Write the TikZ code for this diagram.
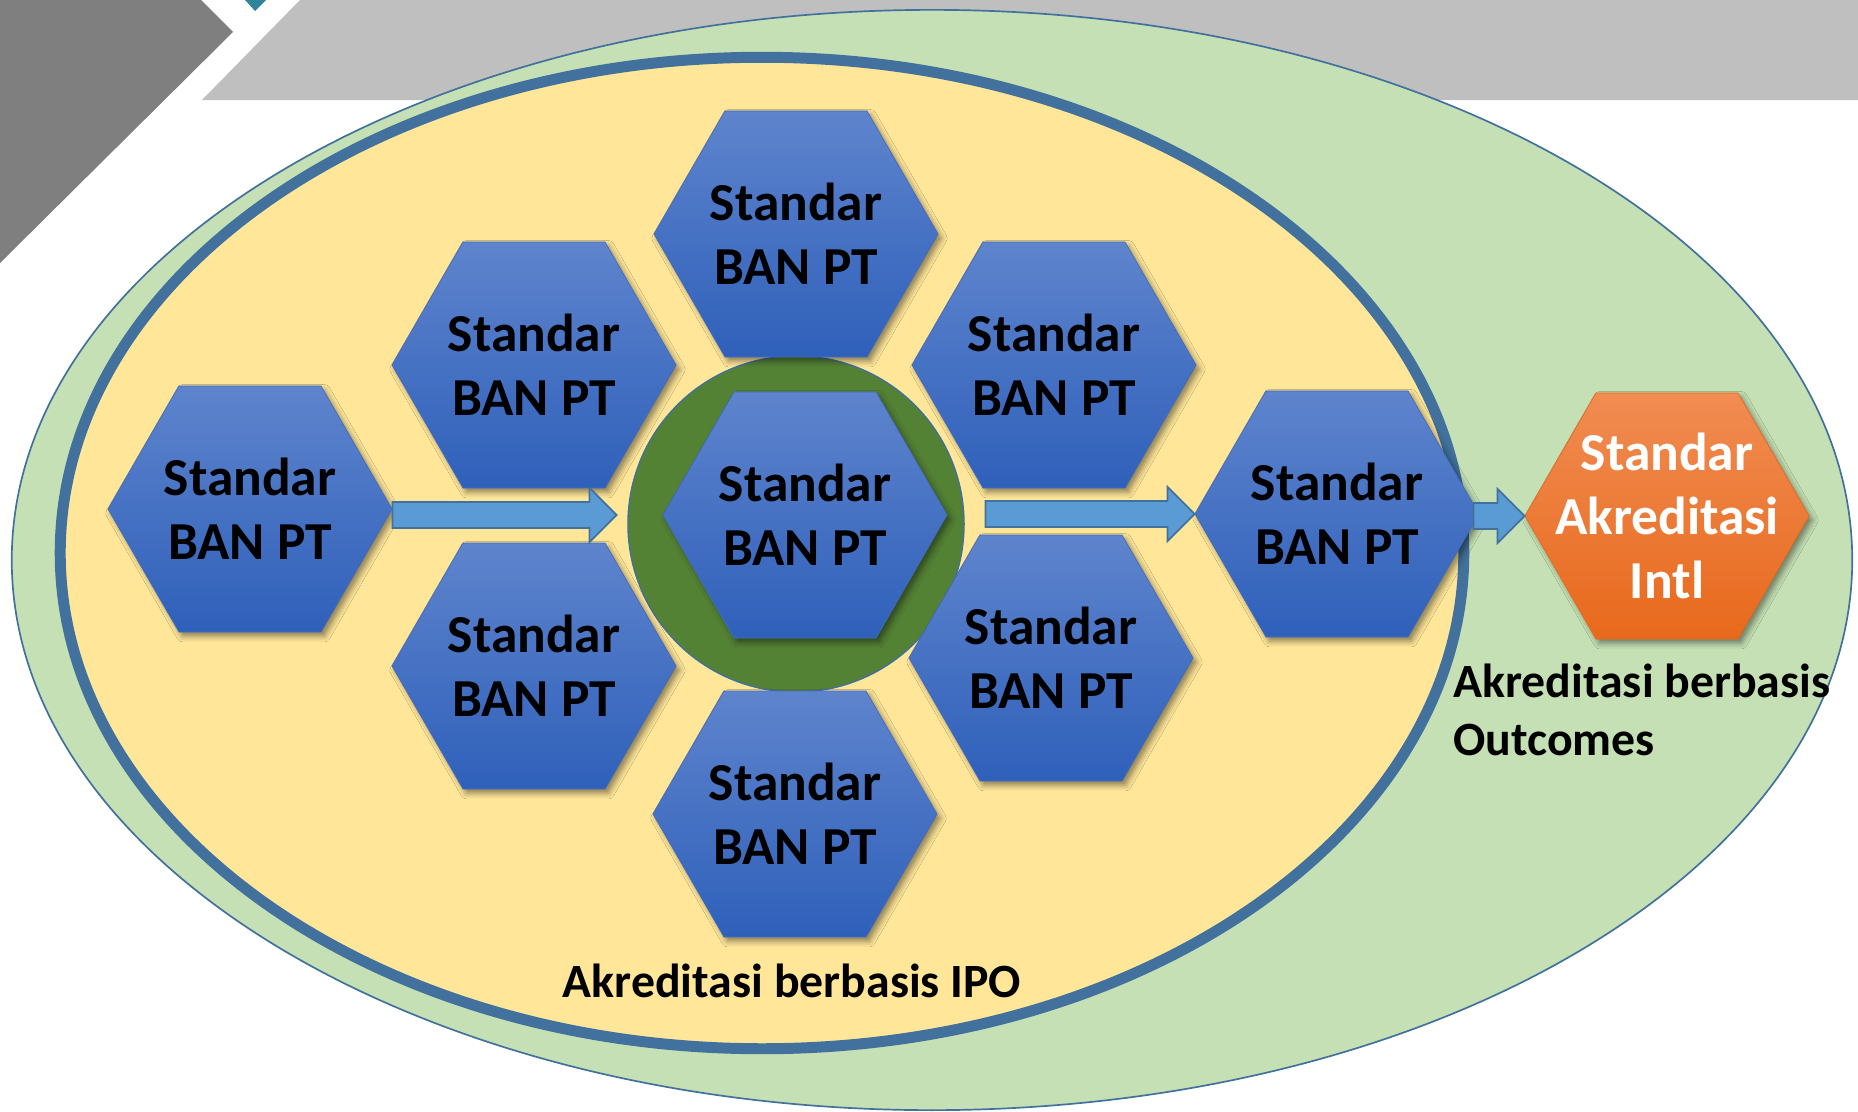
\documentclass[tikz,border=0pt]{standalone}
\usepackage{fontspec}
\setmainfont{Carlito}
\usetikzlibrary{shapes.geometric,shadows.blur,calc}

\definecolor{grayA}{HTML}{7F7F7F}
\definecolor{grayB}{HTML}{BFBFBF}
\definecolor{tealA}{HTML}{31849B}
\definecolor{greenA}{HTML}{C5E0B4}
\definecolor{greenB}{HTML}{548235}
\definecolor{yellowA}{HTML}{FFE699}
\definecolor{bordblue}{HTML}{41719C}
\definecolor{arrowfill}{HTML}{5B9BD5}
\definecolor{hextop}{HTML}{5E84CD}
\definecolor{hexbot}{HTML}{2F60BA}
\definecolor{hexline}{HTML}{3F6CC0}
\definecolor{ortop}{HTML}{F18C52}
\definecolor{orbot}{HTML}{E8691C}

\tikzset{
  hexbox/.style={regular polygon,regular polygon sides=6,minimum size=7.1cm,inner sep=0pt,
    draw=hexline,line width=0.5pt,top color=hextop,bottom color=hexbot,
    blur shadow={shadow xshift=2.5pt,shadow yshift=-3pt,shadow blur radius=4pt,shadow opacity=45},
    font=\fontsize{38}{45.5}\selectfont\bfseries,align=center},
  orangebox/.style={hexbox,inner sep=-1.2cm,draw=orbot,top color=ortop,bottom color=orbot,text=white},
  arrowbox/.style={fill=arrowfill,draw=bordblue,line width=1.2pt},
  captext/.style={inner sep=0pt,font=\fontsize{34}{41.3}\selectfont\bfseries}
}

\newcommand{\blockarr}[2]{\draw[arrowbox] let \p1=#1, \p2=#2 in
  (\x1,\y2+0.325cm) -- (\x2-0.675cm,\y2+0.325cm) -- (\x2-0.675cm,\y2+0.675cm) -- (\x2,\y2)
  -- (\x2-0.675cm,\y2-0.675cm) -- (\x2-0.675cm,\y2-0.325cm) -- (\x1,\y2-0.325cm) -- cycle;}

\begin{document}
\begin{tikzpicture}[x=0.025cm,y=-0.025cm]
\useasboundingbox (0,0) rectangle (1858,1111);
\fill[grayA] (0,0) -- (201,0) -- (233,32) -- (0,263) -- cycle;
\fill[grayB] (300,0) -- (1858,0) -- (1858,100) -- (202,100) -- cycle;
\fill[tealA] (245,0) -- (266,0) -- (255,11) -- cycle;

\draw[fill=greenA,draw=bordblue,line width=1.2pt] (932,560) ellipse [x radius=23cm,y radius=13.75cm];
\draw[fill=yellowA,draw=bordblue,line width=7.8pt] (762,553) ellipse [x radius=17.54cm,y radius=12.39cm];
\node[circle,minimum size=8.4cm,fill=greenB,draw=bordblue,line width=1pt] (ring) at (796,524) {};

\node[hexbox] (T) at (796,234) {Standar\\BAN PT};
\node[hexbox] (UL) at (534,365) {Standar\\BAN PT};
\node[hexbox] (UR) at (1054,365) {Standar\\BAN PT};
\node[hexbox] (L) at (250,509) {Standar\\BAN PT};
\node[hexbox] (C) at (805,515) {Standar\\BAN PT};
\node[hexbox] (LL) at (534,666) {Standar\\BAN PT};
\node[hexbox] (LR) at (1051,658) {Standar\\BAN PT};
\node[hexbox] (B) at (795,814) {Standar\\BAN PT};
\node[hexbox] (R) at (1337,514) {Standar\\BAN PT};
\node[orangebox] (O) at (1667,516) {Standar\\Akreditasi\\Intl};

\blockarr{(L.east)}{($(C.west)+(-46,0)$)}
\blockarr{($(C.east)+(38,0)$)}{(R.west)}
\blockarr{($(R.east)+(-6,0)$)}{(O.west)}

\node[captext,anchor=base] (ipo) at (792,997) {Akreditasi berbasis IPO};
\node[captext,anchor=west,align=left] (outc) at (1453,710) {Akreditasi berbasis\\Outcomes};
\end{tikzpicture}
\end{document}
